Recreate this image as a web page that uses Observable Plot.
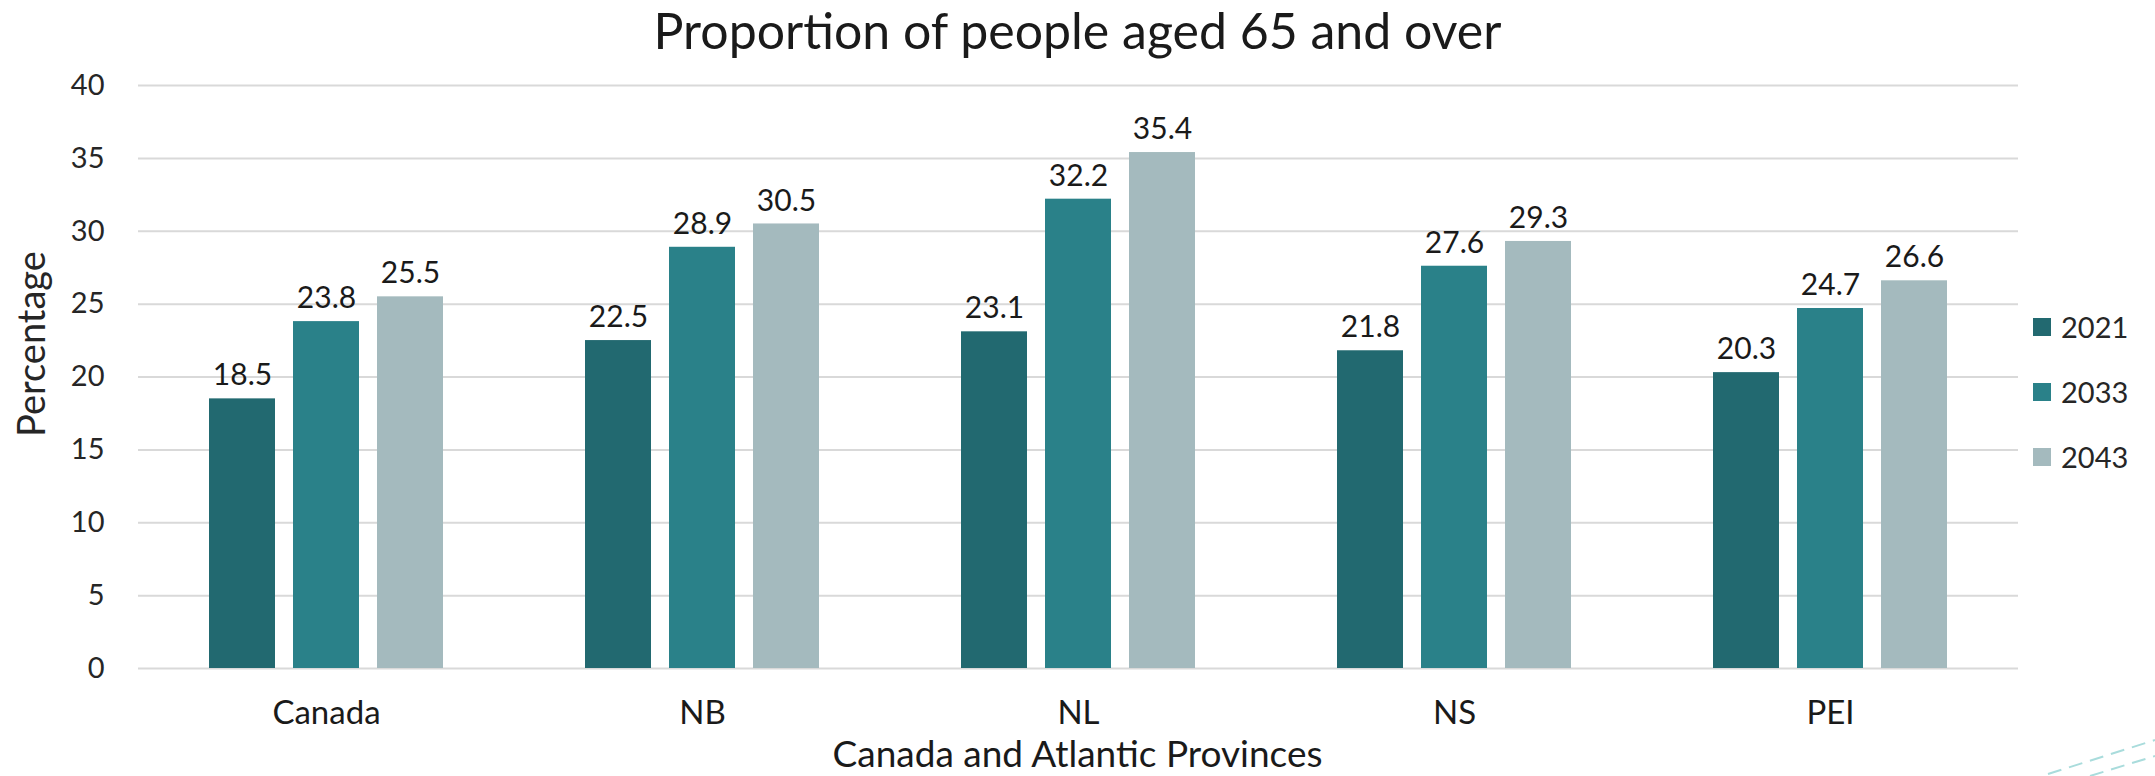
<!DOCTYPE html>
<html><head><meta charset="utf-8">
<script src="https://cdn.jsdelivr.net/npm/d3@7"></script>
<script src="https://cdn.jsdelivr.net/npm/@observablehq/plot@0.6"></script>
<style>
body{margin:0;background:#fff;font-family:Lato,sans-serif;}
#wrap{position:relative;width:2155px;height:776px;overflow:hidden;background:#fff;}
#chart{position:absolute;left:0;top:0;}
#title{position:absolute;left:0;width:2155px;top:0px;text-align:center;font-size:50px;line-height:60px;color:#1a1a1a;}
#xlabel{position:absolute;left:0;width:2155px;top:731px;text-align:center;font-size:37px;line-height:44px;color:#1a1a1a;}
#ylabel{position:absolute;left:30px;top:344px;transform:translate(-50%,-50%) rotate(-90deg);font-size:38px;line-height:46px;color:#262626;white-space:nowrap;}
#legend{position:absolute;left:2033px;top:294px;font-size:29px;color:#262626;}
.li{display:flex;align-items:center;height:65px;}
.sw{width:18px;height:18px;margin-right:10px;}
#deco{position:absolute;left:2030px;top:730px;}
</style></head><body>
<div id="wrap">
<div id="chart"></div>
<div id="title">Proportion of people aged 65 and over</div>
<div id="ylabel">Percentage</div>
<div id="xlabel">Canada and Atlantic Provinces</div>
<div id="legend"></div>
<svg id="deco" width="125" height="46"><line x1="18" y1="44" x2="125" y2="10" stroke="#a9dcdc" stroke-width="2" stroke-dasharray="14,8"/><line x1="60" y1="46" x2="125" y2="26" stroke="#a9dcdc" stroke-width="2" stroke-dasharray="14,8"/></svg>
</div>
<script>
const regions = ["Canada", "NB", "NL", "NS", "PEI"];
const years = ["2021", "2033", "2043"];
const values2021 = [18.5, 22.5, 23.1, 21.8, 20.3];
const values2033 = [23.8, 28.9, 32.2, 27.6, 24.7];
const values2043 = [25.5, 30.5, 35.4, 29.3, 26.6];
const yTicks = [0, 5, 10, 15, 20, 25, 30, 35, 40];
const colors = ["#226970", "#2a8189", "#a4babe"];

const series = [values2021, values2033, values2043];
const data = regions.flatMap((r, i) => years.map((y, j) => ({region: r, year: y, value: series[j][i]})));

const chart = Plot.plot({
  width: 2155, height: 776,
  marginTop: 85, marginBottom: 108, marginLeft: 137, marginRight: 137,
  style: {fontFamily: "Lato, sans-serif", color: "#262626", background: "transparent"},
  fx: {domain: regions, padding: 0, label: null, axis: null},
  x: {domain: years, paddingInner: 0.214, paddingOuter: 0.845, axis: null},
  y: {domain: [0, 40], label: null, axis: null},
  color: {domain: years, range: colors},
  marks: [
    Plot.gridY(yTicks, {stroke: "#d9d9d9", strokeOpacity: 1, strokeWidth: 2}),
    Plot.axisY(yTicks, {tickSize: 0, tickPadding: 34, fontSize: 29, label: null, fill: "#262626"}),
    Plot.axisFx({anchor: "bottom", tickSize: 0, tickPadding: 32, fontSize: 33, label: null, fill: "#1a1a1a"}),
    Plot.barY(data, {fx: "region", x: "year", y: "value", fill: "year"}),
    Plot.text(data, {fx: "region", x: "year", y: "value", text: d => d.value.toFixed(1), dy: -23, fontSize: 30, fill: "#1a1a1a"})
  ]
});
document.getElementById("chart").appendChild(chart);

const leg = document.getElementById("legend");
years.forEach((y, i) => {
  const row = document.createElement("div");
  row.className = "li";
  const sw = document.createElement("div");
  sw.className = "sw";
  sw.style.background = colors[i];
  const t = document.createElement("span");
  t.textContent = y;
  row.appendChild(sw); row.appendChild(t);
  leg.appendChild(row);
});
</script>
</body></html>
